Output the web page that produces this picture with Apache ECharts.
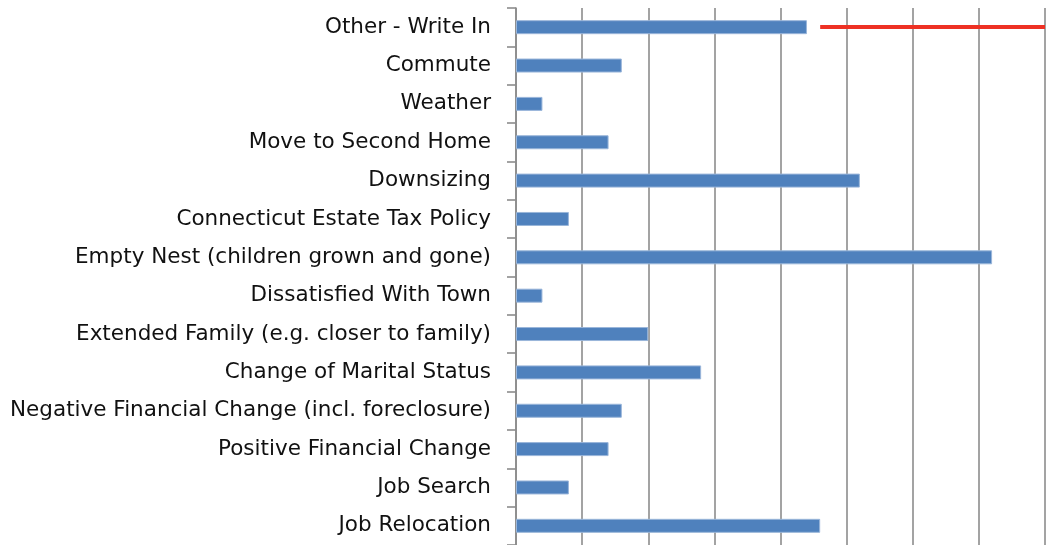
<!DOCTYPE html>
<html>
<head>
<meta charset="utf-8">
<script src="https://cdn.jsdelivr.net/npm/echarts@6/dist/echarts.min.js"></script>
<style>
  html, body { margin: 0; padding: 0; background: #fff; }
  #chart { width: 1046px; height: 545px; }
</style>
</head>
<body>
<div id="chart"></div>
<script>
"use strict";

// categories, bottom to top (category axis starts at the bottom)
const reasons = [
  "Job Relocation",
  "Job Search",
  "Positive Financial Change",
  "Negative Financial Change (incl. foreclosure)",
  "Change of Marital Status",
  "Extended Family (e.g. closer to family)",
  "Dissatisfied With Town",
  "Empty Nest (children grown and gone)",
  "Connecticut Estate Tax Policy",
  "Downsizing",
  "Move to Second Home",
  "Weather",
  "Commute",
  "Other - Write In"
];
// responses per reason
const counts = [23, 4, 7, 8, 14, 10, 2, 36, 4, 26, 7, 2, 8, 22];

// value axis
const axisMax = 40;
const axisStep = 5;

// red marker line on the top row
const markerRow = "Other - Write In";
const markerFrom = 23;
const markerTo = 40;

const myChart = echarts.init(document.getElementById("chart"));

const option = {
  animation: false,
  grid: {
    left: 516,
    right: 1,
    top: 8,
    bottom: 0
  },
  xAxis: {
    type: "value",
    min: 0,
    max: axisMax,
    interval: axisStep,
    axisLabel: { show: false },
    axisLine: { show: false },
    axisTick: { show: false },
    splitLine: {
      show: true,
      lineStyle: { color: "#8c8c8c", width: 1.6 }
    }
  },
  yAxis: {
    type: "category",
    data: reasons,
    axisLine: {
      show: true,
      lineStyle: { color: "#8c8c8c", width: 1.6 }
    },
    axisTick: {
      show: true,
      length: 9,
      lineStyle: { color: "#8c8c8c", width: 1.6 }
    },
    axisLabel: {
      margin: 25,
      color: "#111",
      fontFamily: "DejaVu Sans",
      fontSize: 21.5,
      padding: [5, 0, 0, 0]
    }
  },
  series: [
    {
      type: "bar",
      data: counts,
      barWidth: 14,
      itemStyle: {
        color: "#4f81bd",
        borderColor: "#9ab6da",
        borderWidth: 1
      },
      markLine: {
        silent: true,
        symbol: "none",
        label: { show: false },
        lineStyle: { color: "#ee3124", width: 4, type: "solid" },
        data: [
          [
            { coord: [markerFrom, markerRow] },
            { coord: [markerTo, markerRow] }
          ]
        ]
      }
    }
  ]
};

myChart.setOption(option);
</script>
</body>
</html>
